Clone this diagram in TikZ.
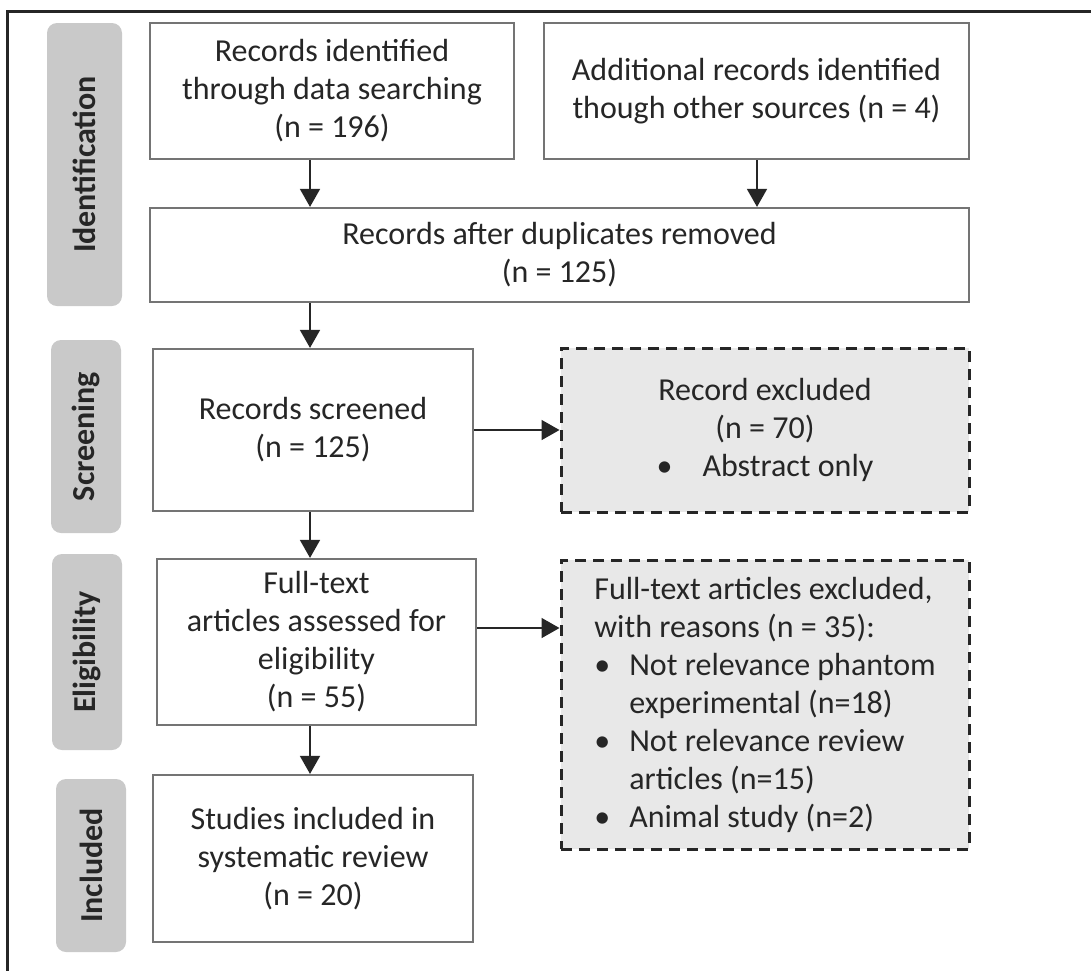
\documentclass[tikz,border=0pt]{standalone}
\usepackage{fontspec}
\setmainfont{Carlito}
\usetikzlibrary{arrows.meta}
\definecolor{labelgray}{HTML}{C9C9C9}
\definecolor{boxline}{HTML}{747474}
\definecolor{dashfill}{HTML}{E8E8E8}
\definecolor{txt}{HTML}{262626}
\begin{document}
\begin{tikzpicture}[x=1pt,y=-1pt,
  phase/.style={rotate=90, fill=labelgray, rounded corners=10pt, font=\fontsize{32}{36}\selectfont\bfseries, text=txt, inner sep=0pt},
  stepbox/.style={draw=boxline, line width=2.2pt, fill=white, align=center, inner sep=0pt, font=\fontsize{32}{38}\selectfont, text=txt},
  exbox/.style={draw=black!85, line width=3pt, dash pattern=on 11pt off 7pt, fill=dashfill, inner sep=0pt, font=\fontsize{32}{38}\selectfont, text=txt},
  arr/.style={draw=black!85, line width=1.6pt, -{Triangle[length=18pt,width=20pt]}}
]
\useasboundingbox (0,0) rectangle (1091,970);
\fill[white] (0,0) rectangle (1091,970);
\draw[line width=3pt, black!85] (7,975) -- (7,11) -- (1096,11);

% phase labels
\node[phase, minimum width=283pt, minimum height=75pt] (lid) at (84.5,164.5) {Identification};
\node[phase, minimum width=193pt, minimum height=70pt] (lscr) at (86,436.5) {Screening};
\node[phase, minimum width=196pt, minimum height=70pt] (lel) at (87,652) {Eligibility};
\node[phase, minimum width=173pt, minimum height=70pt] (lin) at (91,865.5) {Included};

% boxes
\node[stepbox, minimum width=364pt, minimum height=136pt] (b1) at (332,91) {Records identified\\through data searching\\(n = 196)};
\node[stepbox, minimum width=425pt, minimum height=136pt] (b2) at (756.5,91) {Additional records identified\\though other sources (n = 4)};
\node[stepbox, minimum width=819pt, minimum height=94pt] (dup) at (559.5,255) {Records after duplicates removed\\(n = 125)};
\node[stepbox, minimum width=320pt, minimum height=162pt] (scr) at (313,430) {Records screened\\(n = 125)};
\node[exbox, minimum width=408pt, minimum height=164pt, align=center] (rex) at (765,430) {Record excluded\\(n = 70)\\\textbullet\hspace{30pt}Abstract only};
\node[stepbox, minimum width=319pt, minimum height=166pt] (el) at (316.5,642) {Full-text\\articles assessed for\\eligibility\\(n = 55)};
\node[exbox, minimum width=408pt, minimum height=289pt, align=left] (fex) at (765,704.5) {Full-text articles excluded,\\
with reasons (n = 35):\\
\makebox[35pt][l]{\textbullet}Not relevance phantom\\
\hspace*{35pt}experimental (n=18)\\
\makebox[35pt][l]{\textbullet}Not relevance review\\
\hspace*{35pt}articles (n=15)\\
\makebox[35pt][l]{\textbullet}Animal study (n=2)};
\node[stepbox, minimum width=320pt, minimum height=167pt] (st) at (313,858.5) {Studies included in\\systematic review\\(n = 20)};

% connectors
\coordinate (xa) at (310,0);
\coordinate (xb) at (757,0);
\coordinate (ya) at (0,430);
\coordinate (yb) at (0,628);
\draw[arr] (xa |- b1.south) -- (xa |- dup.north);
\draw[arr] (xb |- b2.south) -- (xb |- dup.north);
\draw[arr] (xa |- dup.south) -- (xa |- scr.north);
\draw[arr] (xa |- scr.south) -- (xa |- el.north);
\draw[arr] (xa |- el.south) -- (xa |- st.north);
\draw[arr] (scr.east |- ya) -- (rex.west |- ya);
\draw[arr] (el.east |- yb) -- (fex.west |- yb);
\end{tikzpicture}
\end{document}
